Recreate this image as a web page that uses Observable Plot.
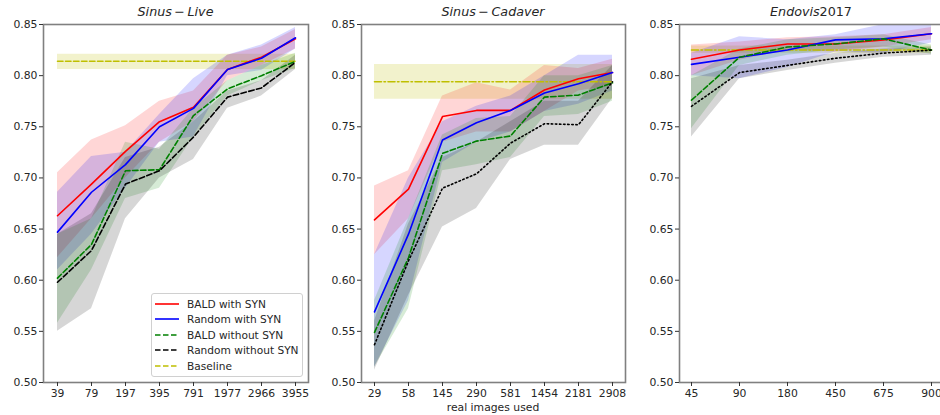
<!DOCTYPE html>
<html><head><meta charset="utf-8">
<script src="https://cdn.jsdelivr.net/npm/d3@7"></script>
<script src="https://cdn.jsdelivr.net/npm/@observablehq/plot@0.6"></script>
<style>
html,body{margin:0;padding:0;background:#fff;overflow:hidden}
#wrap{position:relative;width:940px;height:415px;overflow:hidden;font-family:"DejaVu Sans",sans-serif;color:#262626}
.panel{position:absolute;top:0}
.title{position:absolute;top:4px;font-size:12.7px;transform:translateX(-50%);white-space:nowrap}
.xlabel{position:absolute;top:401px;font-size:10.8px;transform:translateX(-50%);white-space:nowrap}
#legend{position:absolute;left:151px;top:293px;width:150px;height:82px;border:1px solid #d0d0d0;border-radius:3px;background:rgba(255,255,255,0.85);font-size:10.6px}
#legend .row{position:absolute;left:3px;height:14px;display:flex;align-items:center}
#legend svg{width:24px;height:6px;margin-right:8px}
</style></head><body><div id="wrap"></div>
<script>
// ---------- data ----------
const series = ["BALD with SYN", "Random with SYN", "BALD without SYN", "Random without SYN"];
const seriesColors = ["#ff0000", "#0000ff", "#008000", "#000000"];
const baselineLabel = "Baseline";
const baselineColor = "#bfbf00";
const yTicks = [0.50, 0.55, 0.60, 0.65, 0.70, 0.75, 0.80, 0.85];

// Sinus - Live
const liveTicks = ["39", "79", "197", "395", "791", "1977", "2966", "3955"];
const liveBaldSyn   = [0.663, 0.694, 0.726, 0.755, 0.769, 0.806, 0.818, 0.836];
const liveBaldSynLo = [0.622, 0.660, 0.700, 0.735, 0.755, 0.795, 0.810, 0.826];
const liveBaldSynHi = [0.705, 0.737, 0.751, 0.775, 0.785, 0.820, 0.828, 0.845];
const liveRandSyn   = [0.647, 0.686, 0.713, 0.750, 0.768, 0.806, 0.817, 0.837];
const liveRandSynLo = [0.610, 0.645, 0.690, 0.735, 0.740, 0.800, 0.805, 0.826];
const liveRandSynHi = [0.686, 0.721, 0.725, 0.762, 0.797, 0.820, 0.830, 0.847];
const liveBald      = [0.602, 0.635, 0.707, 0.708, 0.761, 0.787, 0.800, 0.814];
const liveBaldLo    = [0.558, 0.610, 0.680, 0.690, 0.740, 0.780, 0.795, 0.807];
const liveBaldHi    = [0.645, 0.660, 0.735, 0.728, 0.768, 0.795, 0.810, 0.822];
const liveRand      = [0.598, 0.629, 0.694, 0.707, 0.740, 0.779, 0.788, 0.813];
const liveRandLo    = [0.550, 0.572, 0.660, 0.700, 0.718, 0.768, 0.780, 0.806];
const liveRandHi    = [0.645, 0.665, 0.720, 0.730, 0.755, 0.785, 0.795, 0.820];
const liveBase      = [0.814, 0.806, 0.821]; // value, lo, hi

// Sinus - Cadaver
const cadTicks = ["29", "58", "145", "290", "581", "1454", "2181", "2908"];
const cadBaldSyn   = [0.659, 0.689, 0.760, 0.766, 0.766, 0.786, 0.797, 0.803];
const cadBaldSynLo = [0.625, 0.660, 0.735, 0.745, 0.745, 0.765, 0.785, 0.790];
const cadBaldSynHi = [0.692, 0.707, 0.780, 0.793, 0.786, 0.810, 0.807, 0.816];
const cadRandSyn   = [0.569, 0.645, 0.737, 0.754, 0.766, 0.783, 0.792, 0.803];
const cadRandSynLo = [0.515, 0.580, 0.715, 0.735, 0.745, 0.765, 0.772, 0.785];
const cadRandSynHi = [0.625, 0.700, 0.755, 0.770, 0.780, 0.800, 0.820, 0.820];
const cadBald      = [0.549, 0.622, 0.724, 0.736, 0.741, 0.779, 0.781, 0.793];
const cadBaldLo    = [0.515, 0.572, 0.707, 0.713, 0.720, 0.760, 0.762, 0.775];
const cadBaldHi    = [0.580, 0.660, 0.742, 0.758, 0.760, 0.800, 0.800, 0.810];
const cadRand      = [0.537, 0.619, 0.690, 0.704, 0.734, 0.753, 0.752, 0.794];
const cadRandLo    = [0.512, 0.585, 0.652, 0.670, 0.718, 0.732, 0.732, 0.778];
const cadRandHi    = [0.560, 0.655, 0.720, 0.735, 0.755, 0.775, 0.775, 0.810];
const cadBase      = [0.794, 0.777, 0.811];

// Endovis2017
const endoTicks = ["45", "90", "180", "450", "675", "900"];
const endoBaldSyn   = [0.816, 0.825, 0.831, 0.831, 0.835, 0.841];
const endoBaldSynLo = [0.800, 0.815, 0.825, 0.823, 0.828, 0.835];
const endoBaldSynHi = [0.830, 0.833, 0.837, 0.838, 0.840, 0.847];
const endoRandSyn   = [0.811, 0.818, 0.825, 0.835, 0.836, 0.841];
const endoRandSynLo = [0.800, 0.797, 0.808, 0.823, 0.822, 0.832];
const endoRandSynHi = [0.822, 0.838, 0.835, 0.840, 0.850, 0.850];
const endoBald      = [0.776, 0.818, 0.828, 0.831, 0.836, 0.825];
const endoBaldLo    = [0.748, 0.810, 0.820, 0.825, 0.828, 0.821];
const endoBaldHi    = [0.800, 0.826, 0.835, 0.837, 0.840, 0.830];
const endoRand      = [0.770, 0.803, 0.810, 0.817, 0.822, 0.825];
const endoRandLo    = [0.740, 0.797, 0.805, 0.812, 0.818, 0.820];
const endoRandHi    = [0.797, 0.810, 0.815, 0.822, 0.826, 0.828];
const endoBase      = [0.825, 0.822, 0.829];

// ---------- drawing ----------
const DASH = "5.5,2.5", DOT = "1.5,2.6", DASHDOT = "7,2.5,1.5,2.5";
const wrap = document.getElementById("wrap");

function panel(cfg) {
  const rows = [];
  series.forEach((s, k) => cfg.ticks.forEach((t, i) =>
    rows.push({x: t, s, y: cfg.data[k][0][i], lo: cfg.data[k][1][i], hi: cfg.data[k][2][i]})));
  const baseRows = cfg.ticks.map(t => ({x: t, y: cfg.base[0], lo: cfg.base[1], hi: cfg.base[2]}));
  const dashes = [null, null, DASH, cfg.randDash];
  const marks = [
    Plot.areaY(baseRows, {x: "x", y1: "lo", y2: "hi", fill: baselineColor, fillOpacity: 0.2, clip: true}),
    Plot.areaY(rows, {x: "x", y1: "lo", y2: "hi", z: "s", fill: "s", fillOpacity: 0.16, clip: true}),
    Plot.line(baseRows, {x: "x", y: "y", stroke: baselineColor, strokeWidth: 1.6, strokeDasharray: cfg.baseDash, clip: true}),
    ...series.map((s, k) => Plot.line(rows.filter(r => r.s === s), {
      x: "x", y: "y", stroke: seriesColors[k], strokeWidth: 1.6,
      strokeDasharray: dashes[k] || undefined, clip: true
    })),
    Plot.frame({stroke: "#808080", strokeWidth: 1.6}),
    Plot.axisY({ticks: yTicks, tickFormat: d3.format(".2f"), tickSize: 4, tickPadding: 2, label: null, stroke: "#333"}),
    Plot.axisX({tickSize: 4, tickPadding: 3, label: null, stroke: "#333"})
  ];
  const svg = Plot.plot({
    width: cfg.width, height: 415,
    marginLeft: cfg.mL, marginRight: cfg.mR, marginTop: 24, marginBottom: 33,
    x: {type: "point", domain: cfg.ticks, padding: cfg.padding},
    y: {domain: [0.5, 0.85]},
    color: {domain: series, range: seriesColors},
    style: {fontFamily: "DejaVu Sans", fontSize: "10.8px", color: "#262626", background: "transparent", overflow: "visible"},
    marks
  });
  svg.classList.add("panel");
  svg.style.left = cfg.left + "px";
  wrap.appendChild(svg);
  const t = document.createElement("div");
  t.className = "title";
  t.innerHTML = cfg.title;
  t.style.left = cfg.center + "px";
  wrap.appendChild(t);
}

panel({ticks: liveTicks, padding: 0.35, left: 0, width: 315, mL: 43, mR: 7, center: 175.5,
  title: "<i>Sinus</i>\u2009−\u2009<i>Live</i>",
  data: [[liveBaldSyn, liveBaldSynLo, liveBaldSynHi], [liveRandSyn, liveRandSynLo, liveRandSynHi],
         [liveBald, liveBaldLo, liveBaldHi], [liveRand, liveRandLo, liveRandHi]],
  base: liveBase, randDash: DASH, baseDash: DASH});

panel({ticks: cadTicks, padding: 0.35, left: 315, width: 315, mL: 46, mR: 5, center: 493,
  title: "<i>Sinus</i>\u2009−\u2009<i>Cadaver</i>",
  data: [[cadBaldSyn, cadBaldSynLo, cadBaldSynHi], [cadRandSyn, cadRandSynLo, cadRandSynHi],
         [cadBald, cadBaldLo, cadBaldHi], [cadRand, cadRandLo, cadRandHi]],
  base: cadBase, randDash: DOT, baseDash: DASHDOT});

panel({ticks: endoTicks, padding: 0.25, left: 630, width: 320, mL: 49, mR: 6.3, center: 811,
  title: "<i>Endovis</i>2017",
  data: [[endoBaldSyn, endoBaldSynLo, endoBaldSynHi], [endoRandSyn, endoRandSynLo, endoRandSynHi],
         [endoBald, endoBaldLo, endoBaldHi], [endoRand, endoRandLo, endoRandHi]],
  base: endoBase, randDash: DOT, baseDash: DASHDOT});

// x label
const xl = document.createElement("div");
xl.className = "xlabel";
xl.textContent = "real images used";
xl.style.left = "493px";
wrap.appendChild(xl);

// legend
const leg = document.createElement("div");
leg.id = "legend";
const legItems = series.map((s, k) => ({label: s, color: seriesColors[k], dash: [null, null, DASH, DASH][k]}))
  .concat([{label: baselineLabel, color: baselineColor, dash: DASH}]);
legItems.forEach((it, i) => {
  const row = document.createElement("div");
  row.className = "row";
  row.style.top = (3 + i * 15.4) + "px";
  row.innerHTML = `<svg viewBox="0 0 24 6"><line x1="0" y1="3" x2="24" y2="3" stroke="${it.color}" stroke-width="1.6" ${it.dash ? `stroke-dasharray="${it.dash}"` : ""}/></svg><span>${it.label}</span>`;
  leg.appendChild(row);
});
wrap.appendChild(leg);
</script></body></html>
